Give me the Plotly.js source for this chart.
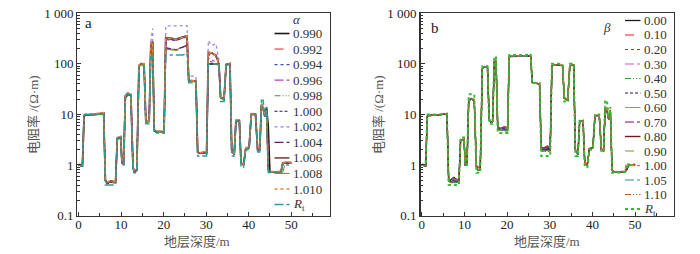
<!DOCTYPE html>
<html><head><meta charset="utf-8">
<script src="https://cdn.plot.ly/plotly-3.0.1.min.js"></script>
<style>html,body{margin:0;padding:0;background:#fff}#chart{width:700px;height:254px}</style>
</head><body><div id="chart"></div>
<script>
// ---------- data ----------
const depth = [0,0.9,1.3,1.6,4.0,5.9,6.3,6.7,7.5,8.3,8.7,9.1,9.9,10.2,10.6,11.0,11.6,12.3,12.8,13.1,13.7,14.2,14.7,15.4,15.8,16.2,16.6,17.0,17.4,17.8,18.3,19.5,20.1,20.5,21.5,23.0,24.5,25.5,25.9,27.6,28.0,28.5,29.5,30.1,30.5,31.3,32.3,33.0,33.4,34.2,34.7,35.6,36.0,36.6,37.0,37.8,38.2,38.8,39.3,40.1,40.6,41.6,42.1,42.6,43.0,43.4,43.8,44.2,44.6,45.0,46.5,47.6,48.0,48.6,50.0];

const rt = [1.0,1.0,10,10,10,10,0.4,0.4,0.4,0.4, 0.4,3.5,3.5,1.0,1.0,25,25,25,0.7,0.7, 0.7,90,90,90,6.5,6.5,6.5,140,140,4.3, 4.3,4.3,4.3,150,150,145,150,160,42,42, 1.5,1.5,1.5,1.5,100,100,100,100,18,18, 100,100,1.5,1.5,7.5,7.5,0.9,0.9,2.0,2.0, 10,10,1.8,1.8,19,19,9,14,0.7,0.7, 0.72,0.72,1.0,1.0,1.0];

// panel a: alpha
const alphaLabels = ['0.990','0.992','0.994','0.996','0.998','1.000','1.002','1.004','1.006','1.008','1.010','<i>R</i><sub>t</sub>'];
const a0990 = [1.0,0.95,9.2,9.6,10,10.6,0.5,0.44,0.48,0.47, 0.46,3.3,3.5,1.1,1.05,23,25,24,0.9,0.76, 0.78,92,100,97,8,7,7.4,255,272,4.8, 4.5,4.5,4.4,330,320,310,340,360,47,45, 1.8,1.7,1.75,1.7,100,100,100,95,22,20, 95,100,2,1.6,7.4,7.5,1.1,1.0,2.1,2.2, 10,10,2,2,15,13,9,14,6,0.72, 0.73,0.73,1.05,1.1,1.1];
const a0992 = [1.0,0.96,9.4,9.8,10.2,10.7,0.52,0.45,0.48,0.47, 0.46,3.4,3.6,1.12,1.06,24,26,24,0.92,0.76, 0.79,93,101,99,8.2,7,7.6,260,275,4.9, 4.6,4.6,4.5,310,305,295,320,345,47,45, 1.8,1.72,1.78,1.72,150,165,140,100,22,20, 96,102,2,1.6,7.6,7.6,1.1,1.0,2.1,2.2, 10,10,2,2,15,14,9,12,0.8,0.72, 0.73,0.73,1.05,1.1,1.1];
const a0994 = [1.0,0.95,9.3,9.7,10,10.5,0.5,0.44,0.47,0.46, 0.45,3.3,3.5,1.1,1.05,22,25,23,0.9,0.75, 0.78,90,99,97,8,7,7.5,250,268,4.7, 4.5,4.5,4.4,300,300,290,320,340,46,45, 1.8,1.7,1.75,1.7,110,110,100,95,21,20, 95,100,2,1.6,7.5,7.5,1.1,1.0,2.1,2.2, 10,10,2,2,16,14,9,12,0.8,0.72, 0.73,0.73,1.05,1.1,1.1];
const a0996 = [1.0,0.95,9.2,9.6,9.9,10.4,0.49,0.43,0.46,0.45, 0.44,3.2,3.4,1.08,1.04,21,24,23,0.88,0.74, 0.77,88,97,96,8,6.9,7.3,240,262,4.7, 4.4,4.4,4.3,200,195,190,210,230,46,44, 1.75,1.68,1.72,1.68,130,120,110,95,21,19.5, 94,98,2,1.6,7.4,7.4,1.1,1.0,2.1,2.2, 10,10,2,2,16,14,9,12,0.8,0.72, 0.73,0.73,1.05,1.1,1.1];
const a0998 = [1.0,0.94,9.1,9.5,9.8,10.3,0.48,0.42,0.45,0.44, 0.44,3.2,3.4,1.07,1.03,21,24,23,0.87,0.74, 0.77,87,96,95,8,6.8,7.2,235,258,4.6, 4.4,4.4,4.3,210,200,195,215,230,46,44, 1.75,1.68,1.72,1.68,100,100,100,95,21,19.5, 94,98,2,1.6,7.4,7.4,1.1,1.0,2.1,2.2, 10,10,2,2,17,15,9,12,0.8,0.72, 0.73,0.73,1.0,1.1,1.1];
const a1000 = [1.0,0.95,9.3,9.7,10,10.5,0.5,0.43,0.47,0.46, 0.45,3.3,3.5,1.1,1.05,22,25,24,0.9,0.75, 0.78,90,100,98,8,7,7.5,250,270,4.8, 4.5,4.5,4.4,320,310,300,330,350,47,45, 1.8,1.7,1.75,1.7,100,100,100,95,22,20, 95,100,2,1.6,7.5,7.5,1.1,1.0,2.1,2.2, 10,10,2,2,15,14,9,12,0.8,0.72, 0.73,0.73,1.05,1.1,1.1];
const a1002 = [1.0,0.95,9.4,9.8,10.1,10.6,0.5,0.44,0.47,0.46, 0.45,3.4,3.6,1.1,1.05,24,27,25,0.9,0.76, 0.78,95,102,100,8,7,7.6,280,500,4.8, 4.5,4.5,4.4,560,560,555,560,570,57,57, 1.8,1.7,1.75,1.7,290,230,250,120,22,20, 98,102,2,1.6,7.5,7.5,1.1,1.0,2.1,2.2, 10,10,2,2,15,14,9,12,0.8,0.72, 0.73,0.73,1.05,1.1,1.1];
const a1004 = [1.0,0.95,9.2,9.6,10,10.5,0.49,0.43,0.46,0.45, 0.45,3.3,3.5,1.1,1.04,22,25,24,0.89,0.75, 0.78,89,98,97,8,7,7.4,245,265,4.7, 4.5,4.5,4.4,205,200,190,215,235,46,45, 1.8,1.7,1.75,1.7,140,170,140,100,22,20, 95,100,2,1.6,7.5,7.5,1.1,1.0,2.1,2.2, 10,10,2,2,15,14,9,12,0.8,0.72, 0.73,0.73,1.05,1.1,1.1];
const a1006 = [1.0,0.96,9.4,9.8,10.1,10.6,0.5,0.45,0.48,0.47, 0.46,3.4,3.6,1.1,1.06,23,26,24,0.9,0.77, 0.79,92,101,99,8,7,7.6,258,274,4.9, 4.6,4.6,4.5,330,320,305,335,355,47,45, 1.8,1.72,1.78,1.72,170,160,150,100,22,20, 96,101,2,1.6,7.6,7.6,1.1,1.0,2.1,2.2, 10,10,2,2,15,14,9,12,0.8,0.72, 0.73,0.74,1.1,1.12,1.12];
const a1008 = [1.0,0.94,9.1,9.5,9.8,10.3,0.48,0.42,0.45,0.44, 0.44,3.2,3.4,1.07,1.03,21,24,23,0.87,0.74, 0.77,87,96,95,8,6.8,7.2,238,260,4.6, 4.4,4.4,4.3,200,190,185,205,220,46,44, 1.75,1.68,1.72,1.68,100,100,100,95,21,19.5, 94,98,2,1.6,7.4,7.4,1.1,1.0,2.1,2.2, 10,10,2,2,15,14,9,12,0.8,0.72, 0.72,0.72,0.73,1.05,1.08];
const a1010 = [1.05,1.0,9.6,10.2,10.4,10.9,0.52,0.46,0.49,0.48, 0.47,3.5,3.7,1.12,1.08,25,27,25,0.93,0.78, 0.8,95,103,101,8.3,7.2,7.8,262,278,5.0, 4.7,4.7,4.6,325,315,305,335,355,48,46, 1.85,1.75,1.8,1.75,175,165,140,100,23,21, 98,104,2.1,1.65,7.8,7.8,1.15,1.05,2.2,2.3, 10.5,10.5,2.1,2.1,16,14,9.5,12,0.8,0.74, 0.75,0.75,1.08,1.12,1.12];

// panel b: beta
const betaLabels = ['0.00','0.10','0.20','0.30','0.40','0.50','0.60','0.70','0.80','0.90','1.00','1.05','1.10','<i>R</i><sub>t</sub>'];
const b000 = [1.0,0.95,9.2,9.5,9.8,10.4,0.52,0.5,0.57,0.5, 0.48,3.1,3.2,1.0,1.0,19,20,19,0.95,0.8, 0.8,80,88,85,8,7,7.2,112,118,5.6, 5.3,5.6,5.1,140,140,140,142,146,43,40, 2.3,2.1,2.3,2.1,92,95,96,92,21,19, 92,95,2,1.6,7.2,7.5,1.1,1.0,2.1,2.2, 9.5,9.5,2,1.9,14,12,8,12,0.8,0.72, 0.73,0.73,0.8,1.0,1.0];
const b010 = [1.0,0.95,9.3,9.6,9.9,10.4,0.52,0.5,0.55,0.5, 0.48,3.2,3.3,1.0,1.0,19,21,19,0.98,0.95, 0.82,81,89,86,8,7,7.3,111,119,5.7, 5.4,5.8,5.2,141,141,141,143,146,43,40, 2.4,2.2,2.4,2.1,93,96,97,93,21,19, 93,96,2,1.6,7.3,7.6,1.1,1.0,2.1,2.2, 9.6,9.6,2,1.9,14,12,8,12,0.8,0.72, 0.73,0.73,0.8,1.0,1.0];
const b020 = [1.0,0.95,9.2,9.5,9.8,10.3,0.51,0.49,0.56,0.49, 0.48,3.1,3.2,1.0,1.0,19,20,19,0.95,0.82, 0.8,80,88,85,8,7,7.2,110,118,5.6, 5.3,5.5,5.1,140,140,140,142,145,43,40, 2.3,2.1,2.35,2.1,92,95,96,92,21,19, 92,95,2,1.6,7.2,7.5,1.1,1.0,2.1,2.2, 9.5,9.5,2,1.9,14,12,8,12,0.8,0.72, 0.73,0.73,0.8,1.0,1.0];
const b030 = [1.0,0.95,9.2,9.5,9.8,10.3,0.5,0.48,0.53,0.49, 0.47,3.1,3.2,1.0,1.0,19,20,19,0.95,0.8, 0.8,80,88,85,8,7,7.2,110,118,5.5, 5.2,5.4,5.0,140,140,140,142,145,43,40, 2.2,2.0,2.2,2.0,92,95,96,92,21,19, 92,95,2,1.6,7.2,7.5,1.1,1.0,2.1,2.2, 9.5,9.5,2,1.9,14,12,8,12,0.8,0.72, 0.73,0.73,0.8,1.0,1.0];
const b040 = [1.0,0.95,9.1,9.4,9.7,10.2,0.5,0.47,0.5,0.48, 0.47,3.1,3.2,1.0,1.0,19,20,19,0.95,0.8, 0.8,80,87,85,8,7,7.1,110,117,5.4, 5.1,5.2,5.0,139,139,139,141,144,42,40, 2.1,2.0,2.1,2.0,91,94,95,91,21,19, 92,95,2,1.6,7.2,7.5,1.1,1.0,2.1,2.2, 9.5,9.5,2,1.9,14,12,8,12,0.8,0.72, 0.73,0.73,0.8,1.0,1.0];
const b050 = [1.0,0.95,9.2,9.5,9.8,10.3,0.5,0.47,0.5,0.48, 0.47,3.1,3.2,1.0,1.0,19,20,19,0.95,0.8, 0.8,80,88,85,8,7,7.2,110,118,5.5, 5.2,5.3,5.0,140,140,140,142,145,43,40, 2.15,2.0,2.15,2.0,92,95,96,92,21,19, 92,95,2,1.6,7.2,7.5,1.1,1.0,2.1,2.2, 9.5,9.5,2,1.9,14,12,8,12,0.8,0.72, 0.73,0.73,0.8,1.0,1.0];
const b060 = [1.0,0.95,9.2,9.5,9.8,10.3,0.5,0.46,0.49,0.47, 0.46,3.1,3.2,1.0,1.0,19,20,19,0.94,0.8, 0.8,80,88,85,8,7,7.2,110,118,5.4, 5.1,5.1,5.0,140,140,140,142,145,43,40, 2.1,2.0,2.05,2.0,92,95,96,92,21,19, 92,95,2,1.6,7.2,7.5,1.1,1.0,2.1,2.2, 9.5,9.5,2,1.9,14,12,8,12,0.8,0.72, 0.73,0.73,0.8,1.0,1.0];
const b070 = [1.0,0.95,9.2,9.5,9.8,10.3,0.5,0.46,0.48,0.47, 0.46,3.1,3.2,1.0,1.0,19,20,19,0.94,0.8, 0.8,80,88,85,8,7,7.2,110,118,5.3, 5.0,5.0,4.9,140,140,140,142,145,43,40, 2.0,1.95,2.0,1.95,92,95,96,92,21,19, 92,95,2,1.6,7.2,7.5,1.1,1.0,2.1,2.2, 9.5,9.5,2,1.9,14,12,8,12,0.8,0.72, 0.73,0.73,0.8,1.0,1.0];
const b080 = [1.0,0.95,9.2,9.5,9.8,10.3,0.49,0.46,0.47,0.46, 0.46,3.1,3.2,1.0,1.0,19,20,19,0.94,0.79, 0.8,80,88,85,8,7,7.2,110,118,5.3, 5.0,5.0,4.9,140,140,140,142,145,43,40, 2.0,1.95,2.0,1.95,92,95,96,92,21,19, 92,95,2,1.6,7.2,7.5,1.1,1.0,2.1,2.2, 9.5,9.5,2,1.9,14,12,8,12,0.8,0.72, 0.73,0.73,0.8,1.0,1.0];
const b090 = [1.0,0.95,9.1,9.4,9.7,10.2,0.49,0.45,0.46,0.46, 0.45,3.1,3.2,1.0,1.0,19,20,19,0.93,0.79, 0.79,80,87,85,8,7,7.1,109,117,5.2, 4.9,4.9,4.8,139,139,139,141,144,42,40, 1.95,1.9,1.95,1.9,91,94,95,91,21,19, 92,95,2,1.6,7.2,7.5,1.1,1.0,2.1,2.2, 9.5,9.5,2,1.9,14,12,8,12,0.8,0.72, 0.73,0.73,0.8,1.0,1.0];
const b100 = [1.05,1.0,9.4,9.7,10,10.5,0.5,0.45,0.45,0.45, 0.45,3.2,3.3,1.05,1.05,20,21,20,0.96,0.82, 0.82,83,90,87,8.2,7.2,7.4,112,120,5.2, 4.9,4.8,4.8,142,142,142,144,147,44,41, 1.95,1.9,1.9,1.9,94,97,98,94,22,20, 94,97,2.05,1.65,7.4,7.7,1.15,1.05,2.15,2.25, 9.8,9.8,2.05,1.95,15,12.5,8.2,12.5,0.82,0.74, 0.74,0.75,1.05,1.05,1.05];
const b105 = [1.0,0.95,9.1,9.4,9.7,10.2,0.48,0.45,0.45,0.45, 0.45,3.0,3.1,0.98,0.98,19,20,19,0.93,0.78, 0.78,79,87,84,8,6.9,7.1,109,117,5.2, 4.9,4.8,4.8,139,139,139,141,144,42,40, 1.95,1.9,1.9,1.9,91,94,95,91,21,19, 91,94,2,1.6,7.1,7.4,1.1,1.0,2.1,2.2, 9.4,9.4,2,1.9,14,12,8,12,0.8,0.72, 0.73,0.73,0.8,1.0,1.0];
const b110 = [1.0,0.95,9.3,9.6,9.9,10.4,0.49,0.45,0.44,0.45, 0.45,3.1,3.2,1.0,1.0,19,20,19,0.95,0.8, 0.8,81,88,86,8,7,7.2,111,119,5.1, 4.8,4.7,4.7,141,141,141,143,146,43,40, 1.9,1.85,1.85,1.85,93,96,97,93,21,19, 93,96,2,1.6,7.3,7.6,1.1,1.0,2.1,2.2, 9.6,9.6,2,1.9,14,12,8,12,0.8,0.72, 0.73,0.74,1.0,1.02,1.02];

// ---------- styles ----------
const DDOT = '6px,2px,1px,2px,1px,2px';
const SDASH = '3px,2px';
const alphaSeries = [a0990,a0992,a0994,a0996,a0998,a1000,a1002,a1004,a1006,a1008,a1010,rt];
const alphaStyle = [
  {color:'#1a1a1a',dash:'solid',width:1.6},
  {color:'#e8312a',dash:'dash',width:1.1},
  {color:'#3a4fc0',dash:'dot',width:1.2},
  {color:'#c040c0',dash:'dashdot',width:1.1},
  {color:'#3a9a3a',dash:DDOT,width:1.1},
  {color:'#1a1a5a',dash:SDASH,width:1.1},
  {color:'#9a80e0',dash:'dot',width:1.2},
  {color:'#6a1a6a',dash:'dashdot',width:1.1},
  {color:'#8a5a50',dash:'solid',width:1.8},
  {color:'#8a8a20',dash:'longdash',width:1.1},
  {color:'#f08040',dash:'dot',width:1.4},
  {color:'#2a9a9a',dash:'dashdot',width:1.4}
];
const betaSeries = [b000,b010,b020,b030,b040,b050,b060,b070,b080,b090,b100,b105,b110,rt];
const betaStyle = [
  {color:'#1a1a1a',dash:'solid',width:1.3},
  {color:'#e8312a',dash:'dash',width:1.1},
  {color:'#3a4fc0',dash:'dot',width:1.2},
  {color:'#c060c0',dash:'dashdot',width:1.1},
  {color:'#3a9a3a',dash:DDOT,width:1.1},
  {color:'#1a1a5a',dash:SDASH,width:1.1},
  {color:'#9a80e0',dash:'solid',width:0.9},
  {color:'#800a70',dash:'dashdot',width:1.1},
  {color:'#6a1a1a',dash:'solid',width:1.4},
  {color:'#9a9a40',dash:'dash',width:1.1},
  {color:'#f08040',dash:'dot',width:1.4},
  {color:'#2a8a9a',dash:'dashdot',width:1.1},
  {color:'#b06030',dash:DDOT,width:1.1},
  {color:'#2ec02e',dash:'dot',width:2}
];

[...alphaSeries, ...betaSeries].forEach((s,i)=>{ if (s.length!==depth.length) throw new Error('length mismatch at '+i+': '+s.length); });

// ---------- layout helpers ----------
const W = 700, H = 254;
const px = x => x / W;
const py = y => 1 - y / H;
const FONT = 'Liberation Serif, Times New Roman, Noto Sans CJK SC, serif';

const traces = [];
alphaSeries.forEach((vals,i)=>{
  traces.push({type:'scatter',mode:'lines',x:depth,y:vals,xaxis:'x',yaxis:'y',
    line:{color:alphaStyle[i].color,dash:alphaStyle[i].dash,width:alphaStyle[i].width},
    name:alphaLabels[i],showlegend:false,hoverinfo:'skip'});
});
betaSeries.forEach((vals,i)=>{
  traces.push({type:'scatter',mode:'lines',x:depth,y:vals,xaxis:'x2',yaxis:'y2',
    line:{color:betaStyle[i].color,dash:betaStyle[i].dash,width:betaStyle[i].width},
    name:betaLabels[i],showlegend:false,hoverinfo:'skip'});
});

const yMinor = [];
for (let e=-1; e<3; e++) for (let k=2; k<=9; k++) yMinor.push(k*Math.pow(10,e));
const xMajor = [0,10,20,30,40,50];
const xMinor = [5,15,25,35,45,55];

function xAxis(dom, anchor){
  return {domain:dom, anchor:anchor, range:[-0.3,59], showline:true, mirror:true, linecolor:'#333', linewidth:1.3,
    ticks:'inside', ticklen:4, tickwidth:1, tickcolor:'#333', showgrid:false, zeroline:false,
    tickmode:'array', tickvals:xMajor, ticktext:xMajor.map(String), ticklabelstandoff:-3,
    minor:{tickmode:'array', tickvals:xMinor, ticks:'inside', ticklen:3, tickcolor:'#333', showgrid:false},
    tickfont:{family:FONT,size:13,color:'#222'}};
}
function yAxis(dom, anchor){
  return {domain:dom, anchor:anchor, type:'log', range:[-1,3], showline:true, mirror:true, linecolor:'#333', linewidth:1.3,
    ticks:'inside', ticklen:4, tickwidth:1, tickcolor:'#333', showgrid:false, zeroline:false,
    tickmode:'array', tickvals:[0.1,1,10,100,1000], ticktext:['0.1','1','10','100','1 000'],
    minor:{tickmode:'array', tickvals:yMinor, ticks:'inside', ticklen:2.5, tickcolor:'#333', showgrid:false},
    tickfont:{family:FONT,size:13,color:'#222'}};
}

const shapes = [], annotations = [];
function legend(labels, styles, x0, x1, xt, ytop, step, header, hx, hy){
  labels.forEach((lab,i)=>{
    const y = ytop + step*i;
    shapes.push({type:'line',xref:'paper',yref:'paper',x0:px(x0),x1:px(x1),y0:py(y),y1:py(y),
      line:{color:styles[i].color,dash:styles[i].dash,width:Math.max(styles[i].width,1)}});
    annotations.push({xref:'paper',yref:'paper',x:px(xt),y:py(y),xanchor:'left',yanchor:'middle',showarrow:false,
      text:lab,font:{family:FONT,size:13,color:'#333'}});
  });
  annotations.push({xref:'paper',yref:'paper',x:px(hx),y:py(hy),xanchor:'center',yanchor:'middle',showarrow:false,
    text:'<i>'+header+'</i>',font:{family:FONT,size:13,color:'#333'}});
}
legend(alphaLabels, alphaStyle, 274.5, 289.5, 290.5, 33.5, 15.55, 'α', 297, 20);
legend(betaLabels, betaStyle, 625, 640.5, 641.5, 20.5, 14.5, 'β', 607, 27);

function txt(x,y,t,size,color,angle){
  annotations.push({xref:'paper',yref:'paper',x:px(x),y:py(y),xanchor:'center',yanchor:'middle',showarrow:false,
    text:t,textangle:angle||0,font:{family:FONT,size:size,color:color}});
}
txt(88,23,'a',15,'#222');
txt(435,28,'b',15,'#222');
txt(33,115,'电阻率 /(Ω·m)',13,'#555',-90);
txt(378,115,'电阻率 /(Ω·m)',13,'#555',-90);
txt(197,241,'地层深度/m',13,'#555');
txt(547,241,'地层深度/m',13,'#555');

const layout = {
  width:W, height:H, margin:{l:0,r:0,t:0,b:0}, paper_bgcolor:'#fff', plot_bgcolor:'#fff',
  showlegend:false,
  xaxis: xAxis([px(77.3), px(329.5)], 'y'),
  yaxis: yAxis([py(215.5), py(13.3)], 'x'),
  xaxis2: xAxis([px(420.5), px(673.5)], 'y2'),
  yaxis2: yAxis([py(215.5), py(13.3)], 'x2'),
  shapes: shapes, annotations: annotations
};
Plotly.newPlot('chart', traces, layout, {staticPlot:true, displayModeBar:false});
</script></body></html>
